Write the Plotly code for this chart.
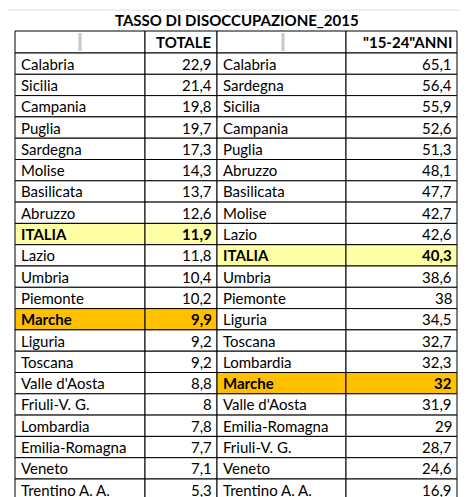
import plotly.graph_objects as go

regioni_tot = ["Calabria", "Sicilia", "Campania", "Puglia", "Sardegna", "Molise", "Basilicata",
               "Abruzzo", "ITALIA", "Lazio", "Umbria", "Piemonte", "Marche", "Liguria", "Toscana",
               "Valle d'Aosta", "Friuli-V. G.", "Lombardia", "Emilia-Romagna", "Veneto", "Trentino A. A."]
totale = ["22,9", "21,4", "19,8", "19,7", "17,3", "14,3", "13,7", "12,6", "11,9", "11,8", "10,4",
          "10,2", "9,9", "9,2", "9,2", "8,8", "8", "7,8", "7,7", "7,1", "5,3"]
regioni_giov = ["Calabria", "Sardegna", "Sicilia", "Campania", "Puglia", "Abruzzo", "Basilicata",
                "Molise", "Lazio", "ITALIA", "Umbria", "Piemonte", "Liguria", "Toscana", "Lombardia",
                "Marche", "Valle d'Aosta", "Emilia-Romagna", "Friuli-V. G.", "Veneto", "Trentino A. A."]
giovani = ["65,1", "56,4", "55,9", "52,6", "51,3", "48,1", "47,7", "42,7", "42,6", "40,3", "38,6",
           "38", "34,5", "32,7", "32,3", "32", "31,9", "29", "28,7", "24,6", "16,9"]
intestazioni = ["", "TOTALE", "", "\"15-24\"ANNI"]

HL = {"ITALIA": "#FFFFA6", "Marche": "#FFC000"}
cols_x = [7, 137, 209, 338, 449]
top, head_h, row_h = 23, 22, 21.3
FONT = dict(family="Lato", size=15, color="black")

fig = go.Figure()
shapes = []
annots = []


def cell(ci, y0, y1, text, fill, is_bold):
    x0, x1 = cols_x[ci], cols_x[ci + 1]
    shapes.append(dict(type="rect", x0=x0, x1=x1, y0=y0, y1=y1, fillcolor=fill,
                       line=dict(color="black", width=1), layer="below"))
    if text == "":
        return
    right = ci % 2 == 1
    annots.append(dict(x=x1 - 3 if right else x0 + 4, y=(y0 + y1) / 2, text="<b>%s</b>" % text if is_bold else text,
                       xanchor="right" if right else "left", yanchor="middle", showarrow=False, font=FONT))


for ci, h in enumerate(intestazioni):
    cell(ci, top, top + head_h, h, "white", True)

for i in range(len(regioni_tot)):
    y0 = top + head_h + i * row_h
    y1 = y0 + row_h
    for ci, (names, vals) in enumerate([(regioni_tot, totale), (regioni_giov, giovani)]):
        n = names[i]
        fill = HL.get(n, "white")
        cell(ci * 2, y0, y1, n, fill, n in HL)
        cell(ci * 2 + 1, y0, y1, vals[i], fill, n in HL)

annots.append(dict(x=229, y=12, text="<b>TASSO DI DISOCCUPAZIONE_2015</b>", showarrow=False,
                   font=dict(family="Lato", size=15, color="black")))
for xg in [72, 275]:
    shapes.append(dict(type="line", x0=xg, x1=xg, y0=25, y1=43, line=dict(color="#C8C8C8", width=3)))
shapes.append(dict(type="line", x0=0, x1=452, y0=2, y1=2, line=dict(color="#E0E0E0", width=1)))

fig.update_layout(width=468, height=497, margin=dict(l=0, r=0, t=0, b=0),
                  paper_bgcolor="white", plot_bgcolor="white", shapes=shapes, annotations=annots,
                  xaxis=dict(range=[0, 468], visible=False, fixedrange=True),
                  yaxis=dict(range=[497, 0], visible=False, fixedrange=True),
                  showlegend=False)
fig.write_html("out.html")
